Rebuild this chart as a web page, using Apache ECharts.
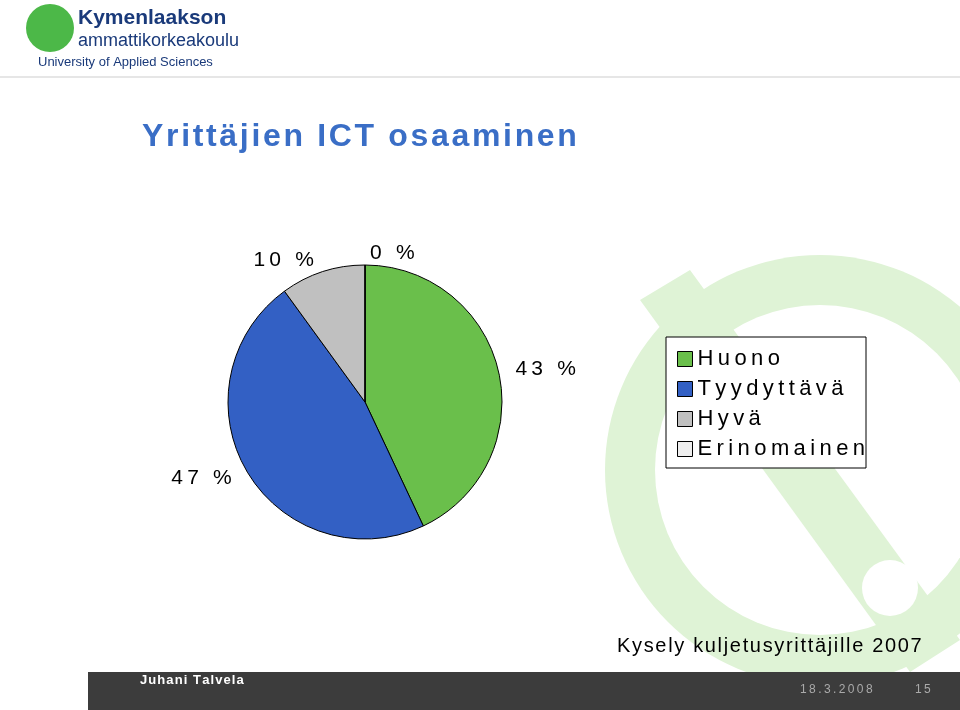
<!DOCTYPE html>
<html><head><meta charset="utf-8">
<script src="https://cdn.jsdelivr.net/npm/echarts@6/dist/echarts.min.js"></script>
<style>html,body{margin:0;padding:0;background:#fff}#c{width:960px;height:710px}</style>
</head><body><div id="c"></div>
<script>
const categories = ['Huono', 'Tyydyttävä', 'Hyvä', 'Erinomainen'];
const values = [43, 47, 10, 0];
const colors = ['#6abf4b', '#3360c4', '#c0c0c0', '#eeeeee'];
const sp = (s, ch) => s.split('').join(ch);
const HAIR = '\u200A', THIN = '\u2009';
const chart = echarts.init(document.getElementById('c'));
const F = 'Liberation Sans, Arial, sans-serif';
chart.setOption({
  animation: false,
  graphic: [
    {type:'circle', shape:{cx:820,cy:470,r:215}, style:{fill:'#dff3d6'}, z:-10},
    {type:'circle', shape:{cx:820,cy:470,r:165}, style:{fill:'#fff'}, z:-9},
    {type:'polygon', shape:{points:[[640,300],[690,270],[960,640],[910,672]]}, style:{fill:'#dff3d6'}, z:-8},
    {type:'circle', shape:{cx:890,cy:588,r:28}, style:{fill:'#fff'}, z:-7},
    {type:'rect', shape:{x:0,y:76,width:960,height:2}, style:{fill:'#e6e6e6'}},
    {type:'circle', shape:{cx:50,cy:28,r:24}, style:{fill:'#4cb848'}},
    {type:'text', left:78, top:8, style:{text:'Kymenlaakson', font:'bold 21px '+F, fill:'#1a3a7a'}},
    {type:'text', left:78, top:32, style:{text:'ammattikorkeakoulu', font:'18px '+F, fill:'#1a3a7a'}},
    {type:'text', left:38, top:56, style:{text:'University of Applied Sciences', font:'13px '+F, fill:'#1a3a7a'}},
    {type:'text', left:142, top:121, style:{text:sp('Yrittäjien ICT osaaminen', HAIR), font:'bold 32px '+F, fill:'#3a6ec6'}},
    {type:'rect', shape:{x:666,y:337,width:200,height:131}, style:{fill:'#fff', stroke:'#000', lineWidth:1}, z:-1},
    {type:'text', left:617, top:636, style:{text:sp('Kysely kuljetusyrittäjille 2007', HAIR), font:'20px '+F, fill:'#000'}},
    {type:'rect', shape:{x:0,y:672,width:960,height:38}, style:{fill:'#3c3c3c'}},
    {type:'rect', shape:{x:0,y:672,width:88,height:38}, style:{fill:'#fff'}},
    {type:'text', left:140, top:674, style:{text:sp('Juhani Talvela', HAIR), font:'bold 13px '+F, fill:'#fff'}},
    {type:'text', left:800, top:684, style:{text:sp('18.3.2008', THIN), font:'12px '+F, fill:'#aaa'}},
    {type:'text', left:915, top:684, style:{text:sp('15', THIN), font:'12px '+F, fill:'#aaa'}}
  ],
  legend: {
    orient:'vertical', left:672, top:343, itemWidth:15, itemHeight:15, itemGap:8,
    icon:'rect', data:categories,
    formatter: n => sp(n, THIN),
    textStyle:{fontSize:22, fontFamily:F, color:'#000'},
    itemStyle:{borderColor:'#000', borderWidth:1}
  },
  series: [{
    type:'pie', center:[365,402], radius:137, startAngle:90, clockwise:true,
    minShowLabelAngle:0, avoidLabelOverlap:false, stillShowZeroSum:true,
    color: colors,
    itemStyle:{borderColor:'#000', borderWidth:1},
    label:{show:true, position:'outside', formatter: p => sp(p.value + ' %', THIN), fontSize:21, fontFamily:F, color:'#000'},
    labelLine:{show:false, length:12, length2:0},
    data: categories.map((n,i)=>({name:n, value:values[i]}))
  }]
});
</script></body></html>
